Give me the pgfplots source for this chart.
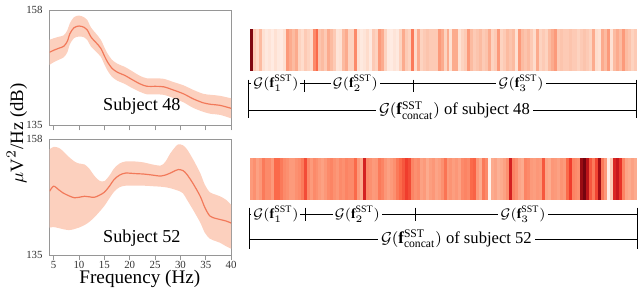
\documentclass[border=0pt]{standalone}
\usepackage{fontspec}
\setmainfont{Liberation Serif}
\usepackage{pgfplots}
\pgfplotsset{compat=1.18}
\usepgfplotslibrary{fillbetween}
\usepackage{pgfplotstable}

\definecolor{lineC}{RGB}{242,121,90}
\definecolor{bandC}{RGB}{252,208,190}
\definecolor{axC}{RGB}{150,150,150}

\pgfplotstableread{
x y lo hi
4.2 149.6 147.1 152.1
5.0 150.0 147.6 152.4
6.0 150.4 148.1 152.7
7.0 150.8 148.6 153.0
7.7 151.8 149.6 154.0
8.2 153.3 151.2 155.4
9.0 154.5 152.4 156.6
10.0 154.85 152.75 156.95
11.0 154.6 152.6 156.6
11.6 154.1 152.1 156.1
12.4 152.6 150.7 154.5
13.3 151.6 149.8 153.4
14.3 150.4 148.7 152.1
15.0 148.9 147.2 150.6
15.6 147.7 146.0 149.4
16.5 146.4 144.7 148.1
17.6 145.6 143.9 147.3
19.0 145.0 143.3 146.7
20.2 144.3 142.6 146.0
22.0 143.3 141.7 144.9
23.4 142.8 141.2 144.4
25.0 142.8 141.2 144.4
26.7 142.7 141.1 144.3
28.5 142.1 140.5 143.7
30.6 141.3 139.6 143.0
32.5 140.3 138.5 142.1
34.5 139.5 137.7 141.3
36.0 139.2 137.3 141.1
37.8 139.0 137.1 140.9
40.0 138.4 136.4 140.4
}\subA

\pgfplotstableread{
x y lo hi
4.2 147.7 140.5 156.0
5.0 148.7 140.6 156.5
6.0 148.0 140.4 156.3
6.8 147.4 140.2 155.7
8.0 146.8 140.0 154.5
9.1 146.4 140.2 153.6
10.0 146.5 140.5 153.2
11.1 146.7 141.0 153.0
12.0 146.6 141.6 152.2
13.0 146.5 142.5 150.8
14.0 146.9 143.6 149.8
15.0 147.5 144.8 149.7
16.0 148.7 146.3 150.8
16.9 150.0 147.6 152.2
18.0 150.9 148.5 153.2
19.2 151.3 148.8 153.6
21.0 151.2 148.8 153.6
22.8 151.1 148.8 153.4
24.5 150.9 148.7 153.0
26.1 150.7 148.6 152.8
27.0 150.9 148.5 153.5
28.0 151.3 148.3 155.2
29.0 151.8 148.0 156.5
29.6 152.0 147.8 157.0
30.5 151.8 147.3 156.8
31.3 151.0 146.0 156.0
32.5 149.2 144.0 154.0
33.9 146.7 141.5 151.3
34.8 144.5 139.5 149.0
35.8 142.8 138.3 147.5
37.0 142.3 137.8 147.0
37.8 142.1 137.5 146.7
39.0 141.8 136.8 146.0
40.0 141.4 136.3 145.0
}\subB

\pgfplotstableread{
x c
247 0.95
250 0.2
253 0.15
256 0.25
259 0.12
262 0.07
265 0.1
268 0.06
271 0.12
274 0.07
277 0.06
280 0.12
283 0.35
286 0.3
289 0.25
292 0.3
295 0.17
298 0.14
301 0.2
304 0.17
307 0.14
310 0.4
313 0.5
316 0.22
319 0.25
322 0.2
325 0.3
328 0.25
331 0.2
334 0.1
337 0.12
340 0.25
343 0.3
346 0.17
349 0.17
352 0.4
355 0.12
358 0.07
361 0.1
364 0.14
367 0.07
370 0.2
373 0.17
376 0.35
379 0.3
382 0.17
385 0.07
388 0.06
391 0.1
394 0.07
397 0.17
400 0.3
403 0.2
406 0.17
409 0.45
412 0.14
415 0.3
418 0.17
421 0.2
424 0.22
427 0.2
430 0.2
433 0.2
436 0.35
439 0.3
442 0.17
445 0.3
448 0.12
451 0.3
454 0.3
457 0.12
460 0.17
463 0.2
466 0.35
469 0.25
472 0.2
475 0.22
478 0.25
481 0.2
484 0.22
487 0.3
490 0.17
493 0.2
496 0.35
499 0.17
502 0.2
505 0.25
508 0.22
511 0.25
514 0.12
517 0.35
520 0.25
523 0.22
526 0.25
529 0.2
532 0.14
535 0.3
538 0.17
541 0.2
544 0.17
547 0.25
550 0.3
553 0.35
556 0.2
559 0.22
562 0.2
565 0.2
568 0.22
571 0.2
574 0.2
577 0.17
580 0.2
583 0.22
586 0.2
589 0.17
592 0.3
595 0.14
598 0.12
601 0.3
604 0.25
607 0.35
610 0.12
613 0.25
616 0.3
619 0.25
622 0.35
625 0.25
628 0.22
631 0.17
634 0.2
637 0.2
}\heatA

\pgfplotstableread{
x c
247 0.35
250 0.38
253 0.33
256 0.36
259 0.45
262 0.4
265 0.4
268 0.35
271 0.5
274 0.5
277 0.45
280 0.4
283 0.38
286 0.35
289 0.35
292 0.38
295 0.4
298 0.45
301 0.58
304 0.4
307 0.35
310 0.4
313 0.38
316 0.35
319 0.33
322 0.36
325 0.4
328 0.42
331 0.38
334 0.36
337 0.4
340 0.38
343 0.42
346 0.4
349 0.4
352 0.5
355 0.35
358 0.3
361 0.72
364 0.4
367 0.38
370 0.35
373 0.36
376 0.45
379 0.42
382 0.36
385 0.33
388 0.35
391 0.38
394 0.45
397 0.5
400 0.55
403 0.62
406 0.58
409 0.42
412 0.38
415 0.4
418 0.33
421 0.35
424 0.3
427 0.34
430 0.36
433 0.32
436 0.34
439 0.38
442 0.47
445 0.35
448 0.37
451 0.34
454 0.36
457 0.33
460 0.4
463 0.42
466 0.4
469 0.5
472 0.52
475 0.35
478 0.3
481 0.45
484 0.4
487 0.02
490 0.3
493 0.32
496 0.28
499 0.3
502 0.33
505 0.38
508 0.72
511 0.42
514 0.38
517 0.32
520 0.3
523 0.42
526 0.4
529 0.35
532 0.34
535 0.36
538 0.35
541 0.55
544 0.32
547 0.3
550 0.36
553 0.35
556 0.33
559 0.37
562 0.35
565 0.5
568 0.62
571 0.42
574 0.4
577 0.38
580 0.9
583 0.97
586 0.8
589 0.55
592 0.45
595 0.6
598 0.88
601 0.45
604 0.35
607 0.03
610 0.2
613 0.7
616 0.76
619 0.65
622 0.42
625 0.32
628 0.3
631 0.33
634 0.3
637 0.3
}\heatB

\pgfplotsset{
  leftax/.style={
    scale only axis, anchor=south west, width=91.5bp,
    xmin=4.2, xmax=40, ymin=135, ymax=158,
    xtick={5,10,...,40}, xtick pos=left,
    ytick=\empty, extra y ticks={135,158},
    extra y tick style={major tick length=0pt},
    tick align=outside, major tick length=2.5bp,
    axis line style={axC, line width=0.5pt},
    tick style={axC, line width=0.4pt},
    ticklabel style={font=\fontsize{5.5}{6}\selectfont, text=black!80},
    xticklabel style={yshift=2.8bp},
    /pgf/number format/assume math mode=true,
  },
  heatax/.style={
    scale only axis, anchor=south west, width=195bp, height=21bp,
    xmin=247, xmax=637, ymin=-1, ymax=1, hide axis, clip=false,
    colormap={reds}{rgb255=(255,245,240) rgb255=(254,224,210) rgb255=(252,187,161) rgb255=(252,146,114) rgb255=(251,106,74) rgb255=(239,59,44) rgb255=(203,24,29) rgb255=(165,15,21) rgb255=(103,0,13)},
    point meta min=0, point meta max=1,
  },
}

\begin{document}
\begin{tikzpicture}
\path (0,0) rectangle (320bp,144.5bp);

% top-left
\begin{axis}[leftax, at={(22.5bp,83.5bp)}, height=58bp, xticklabels={}]
\addplot[draw=none, name path=hiA, smooth] table[x=x,y=hi]{\subA};
\addplot[draw=none, name path=loA, smooth] table[x=x,y=lo]{\subA};
\addplot[bandC, draw=none] fill between[of=hiA and loA];
\addplot[lineC, line width=0.6pt, smooth] table[x=x,y=y]{\subA};
\node[font=\fontsize{9.2}{10}\selectfont] at (axis cs:22.4,138.9) {Subject 48};
\end{axis}

% bottom-left
\begin{axis}[leftax, at={(22.5bp,18bp)}, height=58.5bp]
\addplot[draw=none, name path=hiB, smooth] table[x=x,y=hi]{\subB};
\addplot[draw=none, name path=loB, smooth] table[x=x,y=lo]{\subB};
\addplot[bandC, draw=none] fill between[of=hiB and loB];
\addplot[lineC, line width=0.6pt, smooth] table[x=x,y=y]{\subB};
\node[font=\fontsize{9.2}{10}\selectfont] at (axis cs:22.4,138.5) {Subject 52};
\end{axis}

\node[rotate=90, font=\fontsize{9.5}{10}\selectfont] at (6bp,79.5bp) {$\mu$V$^2$/Hz (dB)};
\node[font=\fontsize{9.7}{10}\selectfont] at (68bp,6.2bp) {Frequency (Hz)};

% heatmaps
\begin{axis}[heatax, at={(123.5bp,111bp)}]
\addplot[mesh, shader=flat corner, line width=21bp, point meta=explicit] table[x=x, y expr=0, meta=c]{\heatA};
\end{axis}
\begin{axis}[heatax, at={(123.5bp,46bp)}]
\addplot[mesh, shader=flat corner, line width=21bp, point meta=explicit] table[x=x, y expr=0, meta=c]{\heatB};
\end{axis}

% brackets top
\begin{scope}[line width=0.5pt]
\draw (122.5bp,106.5bp) -- (122.5bp,87bp);
\draw (318bp,106.5bp) -- (318bp,87bp);
\draw (151bp,106.5bp) -- (151bp,100.5bp);
\draw (206bp,106.5bp) -- (206bp,100.5bp);
\draw (122.5bp,104.5bp) -- (318bp,104.5bp);
\draw (122.5bp,91bp) -- (318bp,91bp);
\end{scope}
\node[fill=white, inner sep=1bp, font=\fontsize{7}{8}\selectfont] at (136.5bp,104.5bp) {$\mathcal{G}(\mathbf{f}_1^{\mathrm{SST}})$};
\node[fill=white, inner sep=1bp, font=\fontsize{7}{8}\selectfont] at (176.5bp,104.5bp) {$\mathcal{G}(\mathbf{f}_2^{\mathrm{SST}})$};
\node[fill=white, inner sep=1bp, font=\fontsize{7}{8}\selectfont] at (260bp,104.5bp) {$\mathcal{G}(\mathbf{f}_3^{\mathrm{SST}})$};
\node[fill=white, inner sep=1.5bp, font=\fontsize{8.4}{9}\selectfont] at (226.5bp,91bp) {$\mathcal{G}(\mathbf{f}_{\mathrm{concat}}^{\mathrm{SST}})$ of subject 48};

% brackets bottom
\begin{scope}[line width=0.5pt]
\draw (123bp,42bp) -- (123bp,21.2bp);
\draw (318.5bp,42bp) -- (318.5bp,21.2bp);
\draw (151.5bp,42bp) -- (151.5bp,35.5bp);
\draw (207bp,42bp) -- (207bp,35.5bp);
\draw (123bp,38.7bp) -- (318.5bp,38.7bp);
\draw (123bp,26.2bp) -- (318.5bp,26.2bp);
\end{scope}
\node[fill=white, inner sep=1bp, font=\fontsize{7}{8}\selectfont] at (136.5bp,38.7bp) {$\mathcal{G}(\mathbf{f}_1^{\mathrm{SST}})$};
\node[fill=white, inner sep=1bp, font=\fontsize{7}{8}\selectfont] at (177.5bp,38.7bp) {$\mathcal{G}(\mathbf{f}_2^{\mathrm{SST}})$};
\node[fill=white, inner sep=1bp, font=\fontsize{7}{8}\selectfont] at (261bp,38.7bp) {$\mathcal{G}(\mathbf{f}_3^{\mathrm{SST}})$};
\node[fill=white, inner sep=1.5bp, font=\fontsize{8.4}{9}\selectfont] at (227.5bp,26.2bp) {$\mathcal{G}(\mathbf{f}_{\mathrm{concat}}^{\mathrm{SST}})$ of subject 52};
\end{tikzpicture}
\end{document}
